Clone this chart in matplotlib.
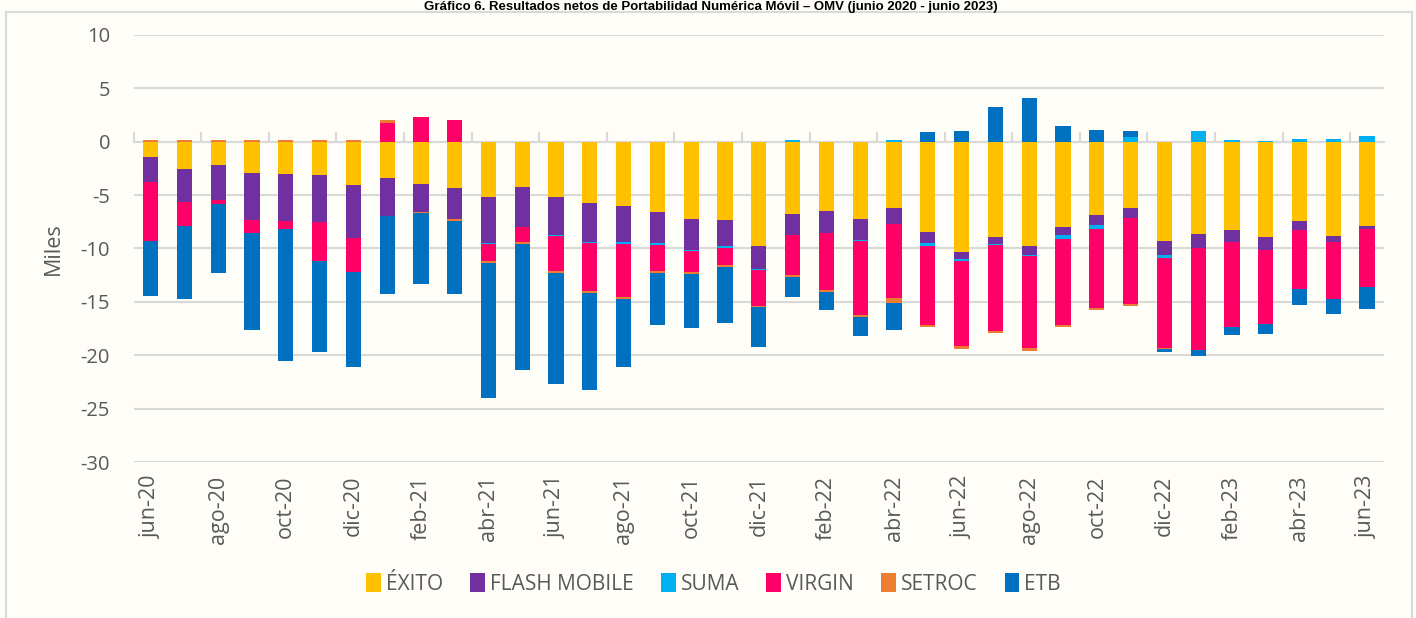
import numpy as np
import matplotlib.pyplot as plt
from matplotlib.patches import Rectangle

months = ["jun-20", "jul-20", "ago-20", "sep-20", "oct-20", "nov-20", "dic-20",
          "ene-21", "feb-21", "mar-21", "abr-21", "may-21", "jun-21", "jul-21",
          "ago-21", "sep-21", "oct-21", "nov-21", "dic-21", "ene-22", "feb-22",
          "mar-22", "abr-22", "may-22", "jun-22", "jul-22", "ago-22", "sep-22",
          "oct-22", "nov-22", "dic-22", "ene-23", "feb-23", "mar-23", "abr-23",
          "may-23", "jun-23"]

# values in thousands (Miles)
exito = [-1.47, -2.6, -2.22, -2.97, -3.06, -3.12, -4.06, -3.4, -3.94, -4.38,
         -5.22, -4.22, -5.16, -5.78, -6.06, -6.62, -7.22, -7.34, -9.81, -6.78,
         -6.47, -7.28, -6.22, -8.47, -10.3, -8.9, -9.78, -8.0, -6.9, -6.25,
         -9.31, -8.6, -8.3, -8.94, -7.47, -8.8, -7.88]
flash = [-2.28, -3.03, -3.25, -4.38, -4.38, -4.44, -4.94, -3.53, -2.62, -2.84,
         -4.28, -3.81, -3.59, -3.62, -3.31, -2.9, -2.9, -2.47, -2.09, -1.97,
         -2.12, -1.94, -1.44, -1.06, -0.69, -0.72, -0.84, -0.75, -0.88, -0.88,
         -1.31, -1.4, -1.12, -1.16, -0.81, -0.62, -0.34]
suma = [0, 0, 0, 0, 0, 0, 0, 0, 0, 0,
        -0.06, 0, -0.09, -0.09, -0.19, -0.19, -0.16, -0.19, -0.12, 0.15,
        0, -0.09, 0.15, -0.25, -0.16, -0.09, -0.12, -0.38, -0.38, 0.4,
        -0.25, 1.03, 0.15, 0.1, 0.28, 0.28, 0.5]
virgin = [-5.53, -2.25, -0.38, -1.16, -0.78, -3.62, -3.19, 1.78, 2.34, 2.03,
          -1.62, -1.38, -3.3, -4.53, -5.0, -2.44, -1.88, -1.5, -3.38, -3.69,
          -5.31, -6.94, -6.97, -7.34, -8.0, -8.03, -8.62, -8.0, -7.44, -8.1,
          -8.44, -9.47, -7.97, -6.94, -5.47, -5.34, -5.38]
setroc = [0.15, 0.15, 0.2, 0.15, 0.2, 0.15, 0.15, 0.25, -0.12, -0.19,
          -0.19, -0.16, -0.16, -0.16, -0.19, -0.19, -0.19, -0.22, -0.09, -0.25,
          -0.16, -0.16, -0.47, -0.22, -0.22, -0.22, -0.25, -0.22, -0.19, -0.19,
          -0.09, 0, 0, 0, 0, 0, 0]
etb = [-5.19, -6.88, -6.47, -9.16, -12.34, -8.5, -8.9, -7.34, -6.66, -6.88,
       -12.6, -11.84, -10.4, -9.1, -6.34, -4.78, -5.06, -5.25, -3.72, -1.84,
       -1.66, -1.75, -2.56, 0.9, 1.0, 3.28, 4.06, 1.47, 1.1, 0.6,
       -0.28, -0.62, -0.75, -0.94, -1.5, -1.4, -2.03]

series = [("ÉXITO", exito, "#FFC000"),
          ("FLASH MOBILE", flash, "#7030A0"),
          ("SUMA", suma, "#00B0F0"),
          ("VIRGIN", virgin, "#FF0066"),
          ("SETROC", setroc, "#ED7D31"),
          ("ETB", etb, "#0070C0")]

bg = "#FFFDF8"
grid_c = "#D9D9D9"
txt_c = "#595959"

plt.rcParams["font.family"] = ["Open Sans", "DejaVu Sans"]
plt.rcParams["axes.unicode_minus"] = False

fig = plt.figure(figsize=(14.16, 6.18), dpi=100, facecolor=bg)
ax = fig.add_axes([0.0944, 0.2524, 0.883, 0.691], facecolor=bg)

x = np.arange(len(months))
pos = np.zeros(len(months))
neg = np.zeros(len(months))
for name, vals, color in series:
    v = np.array(vals, dtype=float)
    bottom = np.where(v >= 0, pos, neg)
    ax.bar(x, v, 0.45, bottom=bottom, color=color, label=name, linewidth=0, zorder=3)
    pos = pos + np.where(v >= 0, v, 0)
    neg = neg + np.where(v < 0, v, 0)

ax.set_xlim(-0.5, len(months) - 0.5)
ax.set_ylim(-30, 10)
ax.set_yticks(range(-30, 11, 5))
ax.yaxis.grid(True, color=grid_c, linewidth=1.5, zorder=0)
ax.tick_params(axis="y", length=0, labelsize=14.5, labelcolor=txt_c, pad=17)
ax.set_ylabel("Miles", fontsize=15.5, color=txt_c, labelpad=12)

ax.set_xticks(x[::2])
ax.set_xticklabels(months[::2], rotation=90)
ax.tick_params(axis="x", length=0, labelsize=15.5, labelcolor=txt_c, pad=10)

for s in ax.spines.values():
    s.set_visible(False)

# category axis crossing at zero, small ticks between every two months
zero_ax = ax.secondary_xaxis(0.75)
zero_ax.set_xticks(np.arange(-0.5, len(months), 2))
zero_ax.set_xticklabels([])
zero_ax.tick_params(axis="x", length=7, width=1.5, color=grid_c, direction="out")
for name, s in zero_ax.spines.items():
    s.set_visible(name == "bottom")
zero_ax.spines["bottom"].set_color(grid_c)
zero_ax.spines["bottom"].set_linewidth(1.5)

fig.legend(loc="center", bbox_to_anchor=(0.504, 0.055), ncol=6, frameon=False,
           fontsize=15, handlelength=0.7, handleheight=1.0, handletextpad=0.25,
           columnspacing=1.3, labelcolor=txt_c)

fig.patches.append(Rectangle((0.0045, -0.05), 0.993, 1.03, transform=fig.transFigure,
                             fill=False, edgecolor=grid_c, linewidth=1.5))

fig.text(0.502, 0.999,
         "Gráfico 6. Resultados netos de Portabilidad Numérica Móvil – OMV (junio 2020 - junio 2023)",
         ha="center", va="top", fontsize=9.5, fontweight="bold",
         family=["Liberation Sans", "DejaVu Sans"])

fig.savefig("out.png", dpi=100, facecolor=bg)
